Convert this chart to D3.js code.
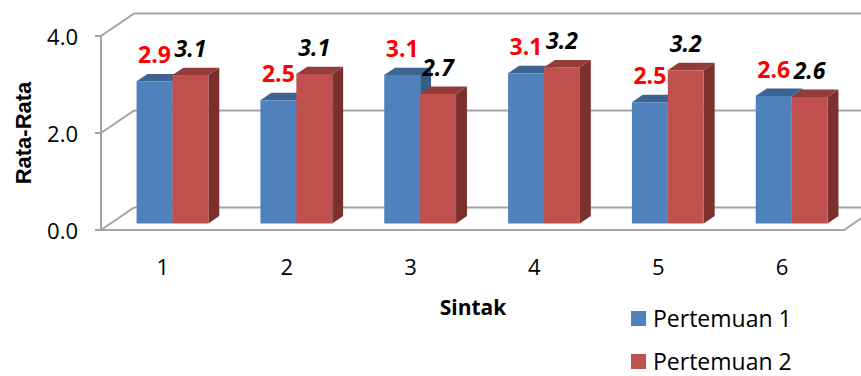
<!DOCTYPE html>
<html>
<head>
<meta charset="utf-8">
<script src="https://cdn.jsdelivr.net/npm/d3@7"></script>
<style>
  body { margin: 0; background: #fff; }
  svg { display: block; }
</style>
</head>
<body>
<div id="chart"></div>
<script>
// data
var categories = ["1", "2", "3", "4", "5", "6"];
var seriesNames = ["Pertemuan 1", "Pertemuan 2"];
var pertemuan1 = [2.93, 2.54, 3.06, 3.10, 2.50, 2.63];
var pertemuan2 = [3.06, 3.08, 2.67, 3.22, 3.16, 2.61];
var label1 = ["2.9", "2.5", "3.1", "3.1", "2.5", "2.6"];
var label2 = ["3.1", "3.1", "2.7", "3.2", "3.2", "2.6"];
var yTicks = [0, 2, 4];

var svgWidth = 861;
var svgHeight = 376;

// front plane of the 3d box
var plot = { left: 101, right: 844, top: 36, bottom: 230 };
// full depth of the box (front -> back wall)
var depth = { dx: 33, dy: -22.5 };
// bars sit between these two depth fractions
var barFront = 0.29;
var barBack = 0.62;

var gridColor = "#a3a3a3";
var colors = {
    "Pertemuan 1": { front: "#4f81bd", top: "#3d6390", side: "#385d8a" },
    "Pertemuan 2": { front: "#c0504d", top: "#943c3a", side: "#7b302e" }
};

var svg = d3.select("#chart")
    .append("svg")
    .attr("width", svgWidth)
    .attr("height", svgHeight);

var x0 = d3.scaleBand()
    .domain(categories)
    .range([plot.left, plot.right])
    .paddingInner(0.42)
    .paddingOuter(0.21);

var x1 = d3.scaleBand()
    .domain(seriesNames)
    .range([0, x0.bandwidth()]);

var yScale = d3.scaleLinear()
    .domain([0, 4])
    .range([plot.bottom, plot.top]);

// category positions on the front edge (for the axis labels)
var xAxisScale = d3.scaleBand()
    .domain(categories)
    .range([plot.left, plot.right]);

function shift(p, f) {
    return [p[0] + depth.dx * f, p[1] + depth.dy * f];
}

// walls and gridlines
var frame = svg.append("g")
    .attr("fill", "none")
    .attr("stroke", gridColor)
    .attr("stroke-width", 2);

yTicks.forEach(function (v) {
    var front = [plot.left, yScale(v)];
    var back = shift(front, 1);
    frame.append("line")
        .attr("x1", front[0]).attr("y1", front[1])
        .attr("x2", back[0]).attr("y2", back[1]);
    frame.append("line")
        .attr("x1", back[0]).attr("y1", back[1])
        .attr("x2", plot.right + depth.dx).attr("y2", back[1]);
    frame.append("line")
        .attr("x1", plot.left - 6).attr("y1", front[1])
        .attr("x2", plot.left).attr("y2", front[1]);
});

frame.append("line")
    .attr("x1", plot.left).attr("y1", yScale(4))
    .attr("x2", plot.left).attr("y2", yScale(0));

frame.append("polyline")
    .attr("points", [[plot.left, yScale(0)], [plot.right, yScale(0)], shift([plot.right, yScale(0)], 1)]
        .map(function (p) { return p.join(","); }).join(" "));

// bars
var barsGroup = svg.append("g");
var labelsGroup = svg.append("g");

categories.forEach(function (cat, i) {
    var vals = [pertemuan1[i], pertemuan2[i]];
    var labels = [label1[i], label2[i]];
    seriesNames.forEach(function (s, j) {
        var xl = x0(cat) + x1(s);
        var xr = xl + x1.bandwidth();
        var yt = yScale(vals[j]);
        var yb = yScale(0);
        var ftl = shift([xl, yt], barFront), ftr = shift([xr, yt], barFront);
        var fbr = shift([xr, yb], barFront), fbl = shift([xl, yb], barFront);
        var btl = shift([xl, yt], barBack), btr = shift([xr, yt], barBack);
        var bbr = shift([xr, yb], barBack);
        var c = colors[s];
        var pts = function (arr) { return arr.map(function (p) { return p.join(","); }).join(" "); };

        barsGroup.append("polygon")
            .attr("points", pts([ftr, btr, bbr, fbr]))
            .attr("fill", c.side);
        barsGroup.append("polygon")
            .attr("points", pts([ftl, ftr, btr, btl]))
            .attr("fill", c.top);
        barsGroup.append("polygon")
            .attr("points", pts([ftl, ftr, fbr, fbl]))
            .attr("fill", c.front);

        labelsGroup.append("text")
            .attr("x", (ftl[0] + ftr[0]) / 2)
            .attr("y", ftl[1] - 18)
            .attr("text-anchor", "middle")
            .attr("font-family", "'Open Sans', sans-serif")
            .attr("font-size", "23px")
            .attr("font-weight", "bold")
            .attr("font-style", j === 0 ? "normal" : "italic")
            .attr("fill", j === 0 ? "#ff0000" : "#000000")
            .text(labels[j]);
    });
});

// y axis labels
svg.append("g")
    .selectAll("text")
    .data(yTicks)
    .enter()
    .append("text")
    .attr("x", 78)
    .attr("y", function (d) { return yScale(d); })
    .attr("dy", "0.4em")
    .attr("text-anchor", "end")
    .attr("font-family", "'Open Sans', sans-serif")
    .attr("font-size", "22px")
    .attr("fill", "#000")
    .text(function (d) { return d3.format(".1f")(d); });

// x axis labels
svg.append("g")
    .selectAll("text")
    .data(categories)
    .enter()
    .append("text")
    .attr("x", function (d) { return xAxisScale(d) + xAxisScale.bandwidth() / 2; })
    .attr("y", 275)
    .attr("text-anchor", "middle")
    .attr("font-family", "'Open Sans', sans-serif")
    .attr("font-size", "22px")
    .attr("fill", "#000")
    .text(function (d) { return d; });

// axis titles
svg.append("text")
    .attr("x", 473)
    .attr("y", 315)
    .attr("text-anchor", "middle")
    .attr("font-family", "'Open Sans', sans-serif")
    .attr("font-size", "21px")
    .attr("font-weight", "bold")
    .text("Sintak");

svg.append("text")
    .attr("transform", "translate(31,133) rotate(-90)")
    .attr("text-anchor", "middle")
    .attr("font-family", "'Liberation Sans', Arial, sans-serif")
    .attr("font-size", "22px")
    .attr("font-weight", "bold")
    .text("Rata-Rata");

// legend
var legend = svg.append("g");
seriesNames.forEach(function (s, i) {
    var ly = 311 + i * 43;
    legend.append("rect")
        .attr("x", 631)
        .attr("y", ly)
        .attr("width", 15)
        .attr("height", 15)
        .attr("fill", colors[s].front);
    legend.append("text")
        .attr("x", 653)
        .attr("y", ly + 16)
        .attr("font-family", "'Open Sans', sans-serif")
        .attr("font-size", "23px")
        .attr("fill", "#000")
        .text(s);
});
</script>
</body>
</html>
